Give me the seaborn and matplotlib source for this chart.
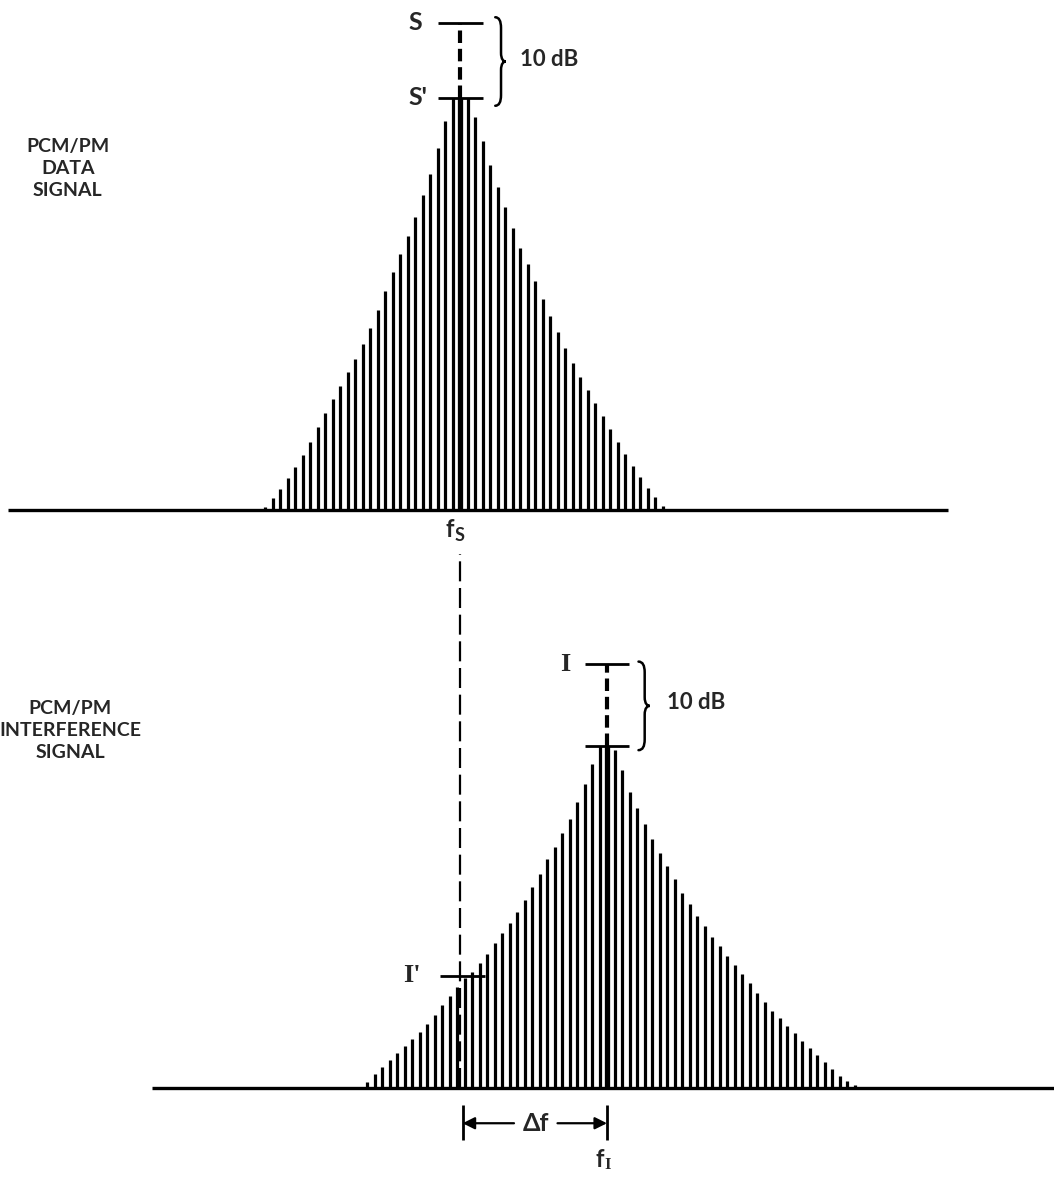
import numpy as np
import pandas as pd
import matplotlib
matplotlib.use('Agg')
import matplotlib.pyplot as plt
from matplotlib.path import Path
from matplotlib.patches import PathPatch
import seaborn as sns

# 数据信号谱线电平 (dB, 相对基线)，按谱线序号 (相对 fs)
sig_k = list(range(-26, 28))
sig_level = [0.4, 1.6, 2.8, 4.3, 5.7, 7.3, 9.1, 11.1, 12.9, 14.8, 16.5, 18.4, 20.1,
             22.1, 24.3, 26.7, 29.2, 31.7, 34.1, 36.5, 39.1, 42.0, 44.8, 48.3, 51.9, 54.9,
             55.0,
             54.9, 52.4, 49.2, 46.0, 43.1, 40.4, 37.6, 34.9, 32.8, 30.5, 28.1, 25.9, 23.7,
             21.6, 19.6, 17.7, 16.0, 14.3, 12.5, 10.8, 9.1, 7.5, 5.9, 4.4, 2.9, 1.8, 0.5]
S_level = 65.0       # 载波未调制电平 S
S_prime = 55.0       # 调制后载波电平 S'

# 干扰信号谱线电平 (dB)，按谱线序号 (相对 fI)
int_k = list(range(-32, 34))
int_level = [0.7, 1.7, 2.6, 3.4, 4.3, 5.1, 6.0, 6.8, 7.8, 8.9, 10.1, 11.2, 12.3, 13.4,
             14.1, 15.2, 16.3, 17.7, 18.9, 20.1, 21.5, 22.9, 24.5, 26.1, 27.9, 29.4, 31.1,
             32.8, 34.9, 37.1, 39.5, 41.7,
             41.7,
             41.2, 38.8, 36.1, 34.1, 32.2, 30.4, 28.7, 27.1, 25.5, 23.8, 22.4, 21.0, 19.8,
             18.4, 17.3, 16.1, 15.0, 13.9, 12.8, 11.6, 10.5, 9.4, 8.5, 7.6, 6.7, 5.7, 4.9,
             4.0, 3.2, 2.3, 1.5, 0.9, 0.4]
I_level = 51.7
I_prime_ref = 41.7
I_prime = 13.7       # 干扰在 fs 处的电平 I'
delta_f = 19.6       # fI - fs (谱线间隔单位)

sns.set_theme(style='white')
plt.rcParams['font.family'] = ['Lato', 'DejaVu Sans']
plt.rcParams['axes.unicode_minus'] = False

df_sig = pd.DataFrame({'f': sig_k, 'level': sig_level})
df_int = pd.DataFrame({'f': np.array(int_k) + delta_f, 'level': int_level})

W, H = 1054, 1179
fig = plt.figure(figsize=(W / 100, H / 100), dpi=100)
fig.patch.set_facecolor('white')
top_h = 540 / H
ax1 = fig.add_axes([0, 1 - top_h, 1, top_h])
ax2 = fig.add_axes([0, 0, 1, 1 - top_h])
x_lim = (-460 / 7.5, (W - 460) / 7.5)
ax1.set_xlim(*x_lim)
ax1.set_ylim(-4, 68)
ax2.set_xlim(*x_lim)
ax2.set_ylim(-11.1, 66.83)
for ax in (ax1, ax2):
    ax.axis('off')

TXT = 14
LW_LINE = 2.3


def brace(ax, x, y0, y1, w, lw=1.8):
    ym = (y0 + y1) / 2
    h = y1 - y0
    verts = [(x, y1), (x + w * 0.55, y1), (x + w * 0.55, y1 - 0.12 * h),
             (x + w * 0.55, ym + 0.1 * h),
             (x + w * 0.55, ym + 0.02 * h), (x + w * 0.8, ym), (x + w, ym),
             (x + w * 0.8, ym), (x + w * 0.55, ym - 0.02 * h), (x + w * 0.55, ym - 0.1 * h),
             (x + w * 0.55, y0 + 0.12 * h),
             (x + w * 0.55, y0), (x, y0)]
    codes = [Path.MOVETO, Path.CURVE3, Path.CURVE3, Path.LINETO,
             Path.CURVE4, Path.CURVE4, Path.CURVE4,
             Path.CURVE4, Path.CURVE4, Path.CURVE4, Path.LINETO,
             Path.CURVE3, Path.CURVE3]
    ax.add_patch(PathPatch(Path(verts, codes), fill=False, lw=lw, color='black',
                           capstyle='round'))


# ==================== 上图: PCM/PM 数据信号 ====================
ax1.hlines(0, -60.3, 65.1, color='black', lw=2.4)
side = df_sig[df_sig['f'] != 0]
ax1.vlines(side['f'], 0, side['level'], color='black', lw=LW_LINE, capstyle='butt')
ax1.vlines(0, 0, S_prime, color='black', lw=3.8, capstyle='butt')
ax1.plot([0, 0], [S_prime, S_level], color='black', lw=3.0, dashes=(3, 1.4))
ax1.hlines([S_level, S_prime], -2.9, 3.0, color='black', lw=2.0)
ax1.text(-6.9, S_level, 'S', fontsize=18, ha='left', va='center', fontweight='bold')
ax1.text(-6.9, S_prime, "S'", fontsize=18, ha='left', va='center', fontweight='bold')
brace(ax1, 4.7, 53.9, 65.7, 1.4)
ax1.text(8.0, 60.0, '10 dB', fontsize=16, ha='left', va='center', fontweight='bold')
ax1.text(-52.3, 45.5, 'PCM/PM\nDATA\nSIGNAL', fontsize=TXT, ha='center', va='center',
         multialignment='center', linespacing=1.35, fontweight='bold')
ax1.text(-2.0, -2.6, 'f', fontsize=17, ha='left', va='center', fontweight='bold')
ax1.text(-0.7, -3.4, 'S', fontsize=13, ha='left', va='center', fontweight='bold')

# ==================== 下图: PCM/PM 干扰信号 ====================
ax2.hlines(0, -41.1, 79.3, color='black', lw=2.4)
side = df_int[df_int['f'] != delta_f]
ax2.vlines(side['f'], 0, side['level'], color='black', lw=LW_LINE, capstyle='butt')
ax2.vlines(delta_f, 0, I_prime_ref, color='black', lw=3.8, capstyle='butt')
ax2.plot([delta_f, delta_f], [I_prime_ref, I_level], color='black', lw=3.0, dashes=(3, 1.4))
ax2.hlines([I_level, I_prime_ref], delta_f - 3.0, delta_f + 2.9, color='black', lw=2.0)
ax2.text(13.3, I_level, 'I', fontsize=19, ha='left', va='center', family='Liberation Serif',
         fontweight='bold')
brace(ax2, 23.8, 41.2, 52.0, 1.5)
ax2.text(27.6, 47.0, '10 dB', fontsize=16, ha='left', va='center', fontweight='bold')

# fs 虚线及 I'
ax2.plot([0, 0], [0, 65.1], color='black', lw=1.6, dashes=(9, 3))
ax2.hlines(I_prime, -2.7, 3.3, color='black', lw=2.0)
ax2.text(-7.6, I_prime, "I'", fontsize=19, ha='left', va='center', family='Liberation Serif',
         fontweight='bold')
ax2.text(-52.0, 43.6, 'PCM/PM\nINTERFERENCE\nSIGNAL', fontsize=TXT, ha='center',
         va='center', multialignment='center', linespacing=1.35, fontweight='bold')

# Δf 标注
ax2.vlines([0.35, delta_f], -6.3, -2.1, color='black', lw=2.0)
ax2.annotate('', xy=(0.35, -4.3), xytext=(7.2, -4.3),
             arrowprops=dict(arrowstyle='-|>', color='black', lw=1.6, mutation_scale=18,
                             shrinkA=0, shrinkB=0))
ax2.annotate('', xy=(delta_f, -4.3), xytext=(13.0, -4.3),
             arrowprops=dict(arrowstyle='-|>', color='black', lw=1.6, mutation_scale=18,
                             shrinkA=0, shrinkB=0))
ax2.text(10.1, -4.3, 'Δf', fontsize=18, ha='center', va='center', fontweight='bold')
ax2.text(18.0, -8.7, 'f', fontsize=17, ha='left', va='center', fontweight='bold')
ax2.text(19.3, -9.4, 'I', fontsize=12, ha='left', va='center', family='Liberation Serif',
         fontweight='bold')

fig.savefig('out.png', dpi=100, facecolor='white')
